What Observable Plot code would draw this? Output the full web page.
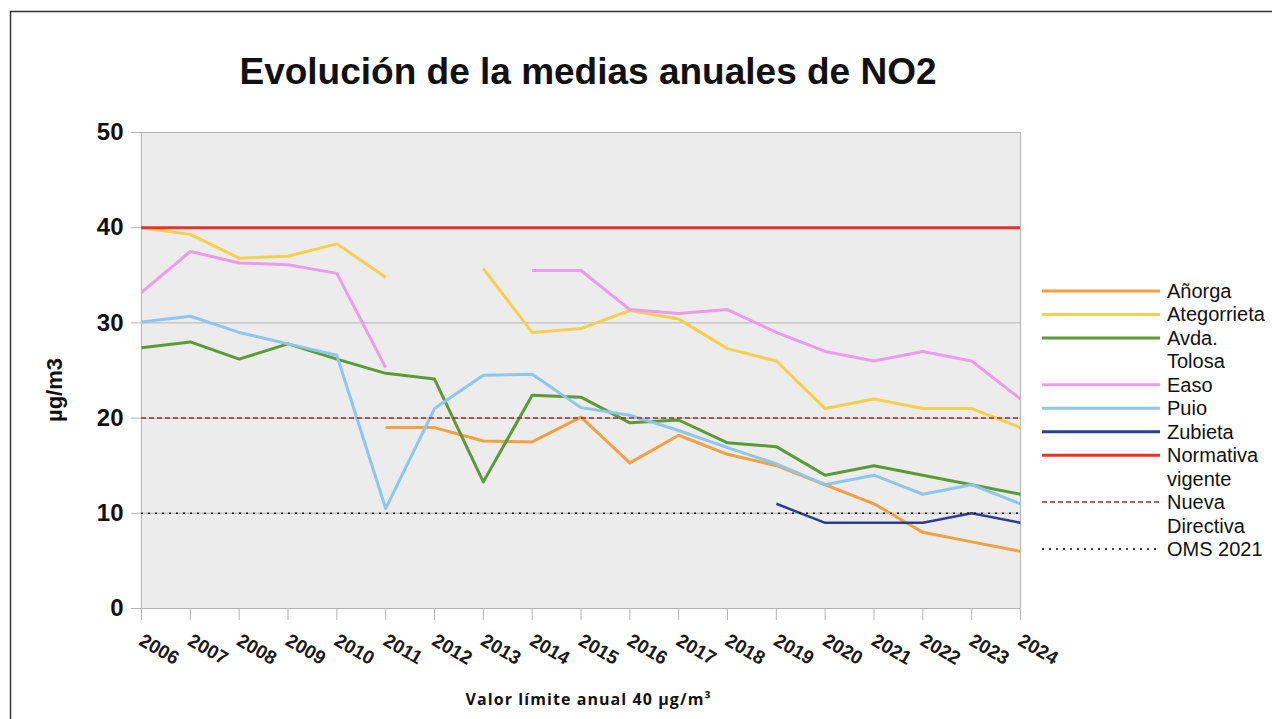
<!DOCTYPE html>
<html>
<head>
<meta charset="utf-8">
<script src="https://cdn.jsdelivr.net/npm/d3@7"></script>
<script src="https://cdn.jsdelivr.net/npm/@observablehq/plot@0.6"></script>
<style>
  body { margin: 0; background: #ffffff; }
  #wrap { position: relative; width: 1272px; height: 719px; overflow: hidden; background: #ffffff; }
  #wrap svg { position: absolute; left: 0; top: 0; }
</style>
</head>
<body>
<div id="wrap"></div>
<script>
// ---- Data ----
const years = [2006, 2007, 2008, 2009, 2010, 2011, 2012, 2013, 2014, 2015, 2016, 2017, 2018, 2019, 2020, 2021, 2022, 2023, 2024];

const anorga      = [null, null, null, null, null, 19, 19, 17.6, 17.5, 20.1, 15.3, 18.2, 16.2, 15, 13, 11, 8, 7, 6];
const ategorrieta = [40, 39.3, 36.8, 37, 38.3, 34.8, null, 35.7, 29, 29.4, 31.3, 30.4, 27.3, 26, 21, 22, 21, 21, 19];
const avdaTolosa  = [27.4, 28, 26.2, 27.8, 26.2, 24.7, 24.1, 13.3, 22.4, 22.2, 19.5, 19.8, 17.4, 17, 14, 15, 14, 13, 12];
const easo        = [33.2, 37.5, 36.3, 36.1, 35.2, 25.3, null, null, 35.5, 35.5, 31.4, 31, 31.4, 29, 27, 26, 27, 26, 22];
const puio        = [30.1, 30.7, 29, 27.8, 26.6, 10.5, 21, 24.5, 24.6, 21.1, 20.3, 18.7, 16.9, 15.2, 13, 14, 12, 13, 11];
const zubieta     = [null, null, null, null, null, null, null, null, null, null, null, null, null, 11, 9, 9, 9, 10, 9];

const seriesNames  = ["Añorga", "Ategorrieta", "Avda. Tolosa", "Easo", "Puio", "Zubieta"];
const seriesValues = [anorga, ategorrieta, avdaTolosa, easo, puio, zubieta];
const seriesColors = ["#f3a142", "#f5cf4e", "#5c9a35", "#ee9bee", "#8dc7ee", "#2b3f8c"];

const refNames  = ["Normativa vigente", "Nueva Directiva", "OMS 2021"];
const refValues = [40, 20, 10];
const refColors = ["#e8332c", "#a8282a", "#000000"];
const refDashes = [null, "5,3", "2,5"];
const refWidths = [3, 1.5, 1.5];

const yTicks = [0, 10, 20, 30, 40, 50];

const legendLabels = [["Añorga"], ["Ategorrieta"], ["Avda.", "Tolosa"], ["Easo"], ["Puio"], ["Zubieta"],
                      ["Normativa", "vigente"], ["Nueva", "Directiva"], ["OMS 2021"]];

// ---- Tables ----
const seriesRows = seriesNames.map((name, i) =>
  years.map((year, j) => ({name, year, value: seriesValues[i][j]})));

const font = "'Liberation Sans', Arial, sans-serif";

const chart = Plot.plot({
  width: 1272,
  height: 719,
  marginLeft: 141,
  marginRight: 252,
  marginTop: 132,
  marginBottom: 111,
  style: {fontFamily: font, background: "transparent", overflow: "visible"},
  x: {type: "linear", domain: [2006, 2024]},
  y: {domain: [0, 50]},
  marks: [
    Plot.frame({fill: "#ececec", stroke: null}),
    Plot.gridY(yTicks, {stroke: "#b3b3b3", strokeOpacity: 1, strokeWidth: 1}),
    Plot.ruleX([years[0], years[years.length - 1]], {stroke: "#b3b3b3", strokeWidth: 1}),
    Plot.axisY({ticks: yTicks, tickSize: 10, color: "#b3b3b3", tickFormat: () => "", label: null}),
    Plot.axisY({ticks: yTicks, tickSize: 0, tickPadding: 18, fontSize: 24, fontWeight: "bold", color: "#111", label: null}),
    Plot.axisX({ticks: years, tickSize: 12, color: "#b3b3b3", tickFormat: () => "", label: null}),
    Plot.text(years, {
      x: d => d, frameAnchor: "bottom", text: d => String(d),
      rotate: 30, textAnchor: "start", lineAnchor: "top",
      dx: 3, dy: 24, fontSize: 19, fontWeight: "bold", fill: "#1a1a1a"
    }),
    ...seriesRows.map((rows, i) => Plot.line(rows, {
      x: "year", y: "value", stroke: seriesColors[i], strokeWidth: i === 5 ? 2.5 : 3,
      strokeLinejoin: "round", strokeLinecap: "butt"
    })),
    ...refValues.map((v, i) => Plot.ruleY([v], {
      stroke: refColors[i], strokeWidth: refWidths[i], strokeDasharray: refDashes[i]
    }))
  ]
});

const wrap = document.getElementById("wrap");
wrap.appendChild(chart);

// ---- Overlay: title, y label, legend, caption, border ----
const svg = d3.select(wrap).append("svg")
  .attr("width", 1272).attr("height", 719)
  .style("pointer-events", "none")
  .style("font-family", font);

svg.append("path")
  .attr("d", "M10.5,719 V11.5 H1272")
  .attr("fill", "none").attr("stroke", "#333").attr("stroke-width", 1.5);

svg.append("text")
  .attr("x", 588).attr("y", 84)
  .attr("text-anchor", "middle")
  .attr("font-size", 37).attr("font-weight", "bold").attr("fill", "#111")
  .text("Evolución de la medias anuales de NO2");

svg.append("text")
  .attr("transform", "translate(62,390) rotate(-90)")
  .attr("text-anchor", "middle")
  .attr("font-size", 22).attr("font-weight", "bold").attr("fill", "#111")
  .text("µg/m3");

svg.append("text")
  .attr("x", 588).attr("y", 705)
  .attr("text-anchor", "middle")
  .attr("font-family", "'Open Sans', 'Liberation Sans', sans-serif")
  .attr("font-size", 16).attr("font-weight", "bold").attr("fill", "#111")
  .attr("textLength", 245).attr("lengthAdjust", "spacing")
  .text("Valor límite anual 40 µg/m³");

// legend
const legendColors = [...seriesColors, ...refColors];
const legendDashes = [null, null, null, null, null, null, ...refDashes];
const legendWidths = [3, 3, 3, 3, 3, 3, 3, 1.5, 1.5];
const rowH = 23.45;
let row = 0;
const lg = svg.append("g");
legendLabels.forEach((lines, i) => {
  const y = 291 + row * rowH;
  lg.append("line")
    .attr("x1", 1042).attr("x2", 1160).attr("y1", y).attr("y2", y)
    .attr("stroke", legendColors[i]).attr("stroke-width", legendWidths[i])
    .attr("stroke-dasharray", legendDashes[i]);
  lines.forEach((t, k) => {
    lg.append("text")
      .attr("x", 1167).attr("y", y + 7 + k * rowH)
      .attr("font-size", 20).attr("fill", "#111")
      .text(t);
  });
  row += lines.length;
});
</script>
</body>
</html>
